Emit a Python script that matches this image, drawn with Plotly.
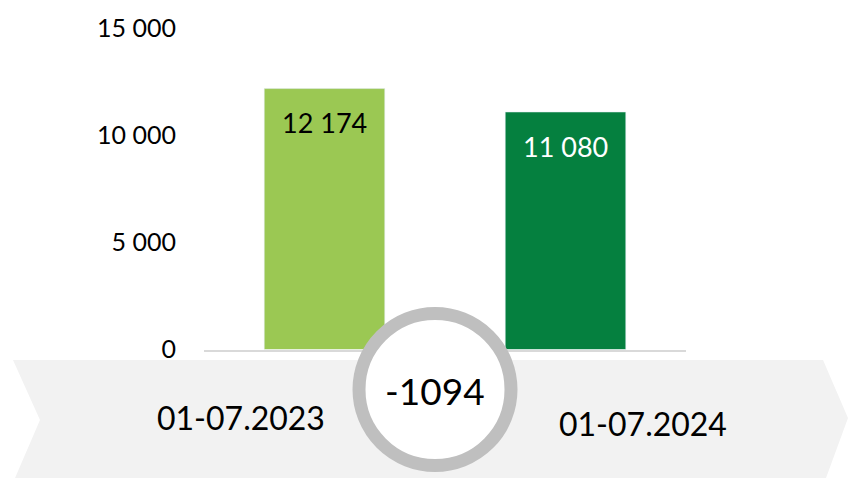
import plotly.graph_objects as go

# ---- data ----
periods = ["01-07.2023", "01-07.2024"]
values = [12174, 11080]
bar_colors = ["#9BC853", "#05803F"]
label_colors = ["#000000", "#FFFFFF"]
tick_vals = [0, 5000, 10000, 15000]

W, H = 848, 478
FONT = "Lato"

def px(x):
    return x / W

def py(y):
    return 1 - y / H

fig = go.Figure()
fig.add_trace(go.Bar(
    x=periods, y=values, marker_color=bar_colors, width=0.5,
    hoverinfo="skip", showlegend=False,
))

annotations = []
# value labels inside bars
for p, v, c in zip(periods, values, label_colors):
    annotations.append(dict(
        x=p, y=v, xref="x", yref="y", text=f"{v:,}".replace(",", " "),
        showarrow=False, yshift=-34, font=dict(family=FONT, size=27, color=c),
    ))

# period labels on the band
label_pos = [(241, 417), (643, 423)]
for p, (lx, ly) in zip(periods, label_pos):
    annotations.append(dict(
        x=px(lx), y=py(ly), xref="paper", yref="paper", text=p,
        showarrow=False, font=dict(family=FONT, size=32, color="#000000"),
        xanchor="center", yanchor="middle",
    ))

diff = values[1] - values[0]
annotations.append(dict(
    x=px(435), y=py(390), xref="paper", yref="paper", text=f"{diff}",
    showarrow=False, font=dict(family=FONT, size=37, color="#000000"),
    xanchor="center", yanchor="middle",
))

band_pts = [(13, 360), (823, 360), (848, 418), (826, 478), (15, 478), (40, 420)]
path = "M " + " L ".join(f"{px(x):.5f},{py(y):.5f}" for x, y in band_pts) + " Z"

shapes = [
    dict(type="path", path=path, xref="paper", yref="paper",
         fillcolor="#F2F2F2", line=dict(width=0), layer="above"),
    dict(type="circle", xref="paper", yref="paper",
         x0=px(359), x1=px(511), y0=py(465.5), y1=py(313.5),
         fillcolor="#FFFFFF", line=dict(color="#BFBFBF", width=13), layer="above"),
]

fig.update_layout(
    width=W, height=H,
    margin=dict(l=0, r=0, t=0, b=0),
    paper_bgcolor="#FFFFFF", plot_bgcolor="#FFFFFF",
    separators=". ",
    font=dict(family=FONT, color="#000000"),
    bargap=0.5,
    xaxis=dict(
        domain=[px(204), px(686)], range=[-0.5, 1.5],
        showticklabels=False, showgrid=False, zeroline=False,
        showline=True, linecolor="#D9D9D9", linewidth=1.5, automargin=False,
    ),
    yaxis=dict(
        domain=[py(349.5), py(28)], range=[0, 15000],
        tickvals=tick_vals, tickformat=",d",
        tickfont=dict(family=FONT, size=25, color="#000000"),
        ticklabelstandoff=27,
        showgrid=False, zeroline=False, showline=False, automargin=False,
    ),
    shapes=shapes,
    annotations=annotations,
)

fig.write_html(
    "out.html",
    config={"displayModeBar": False},
    post_script="document.body.style.margin='0';document.body.style.padding='0';",
)
